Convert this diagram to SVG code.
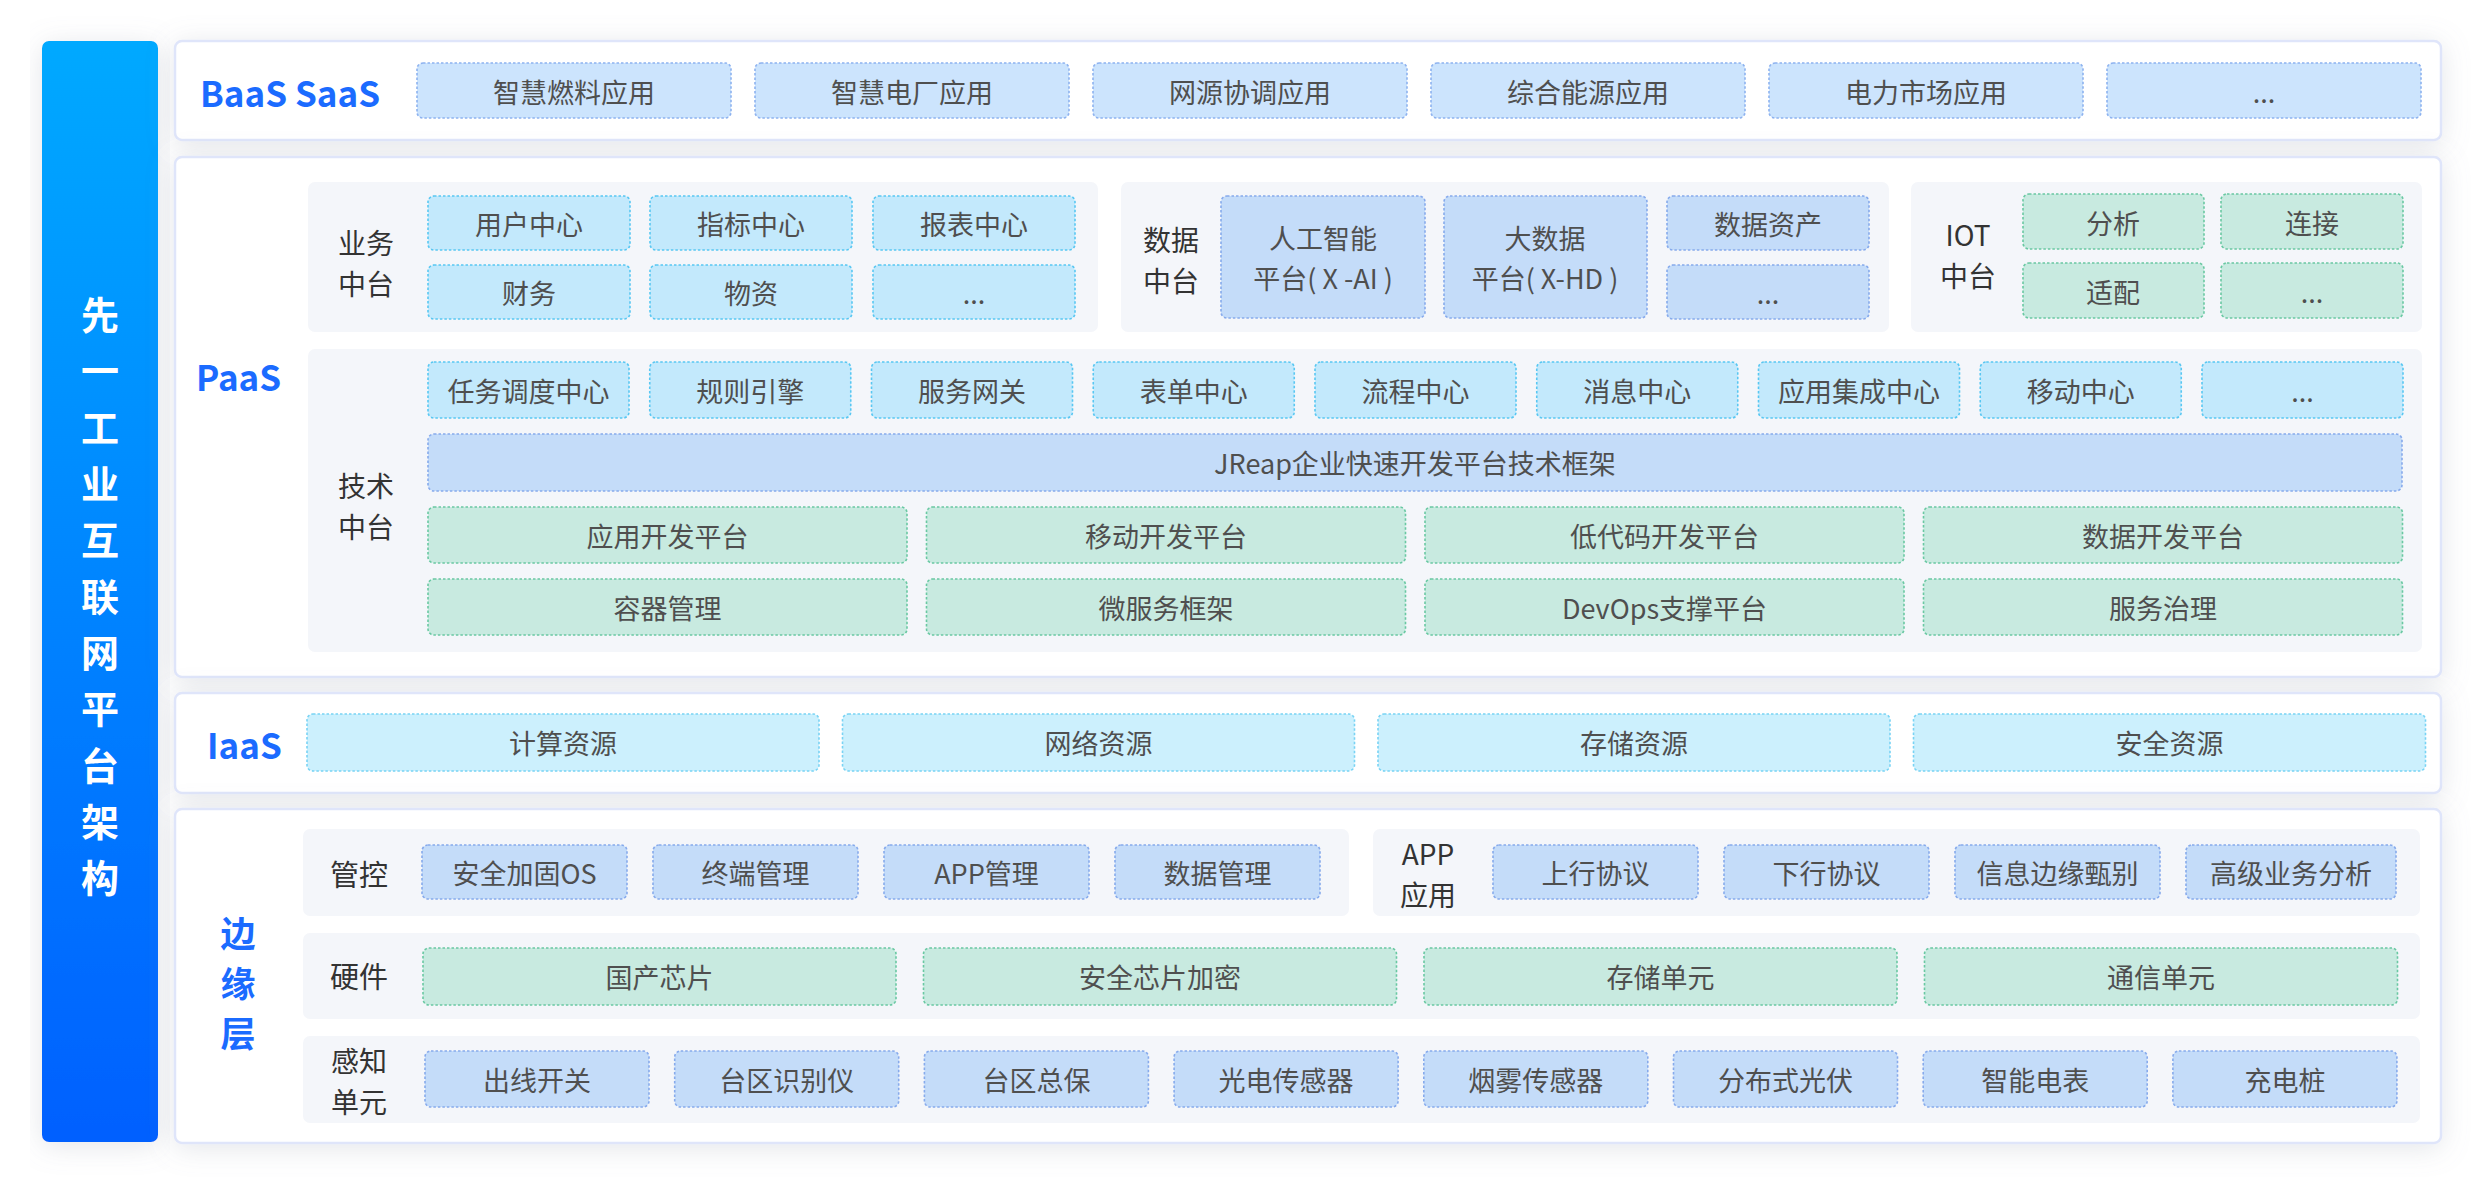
<svg xmlns="http://www.w3.org/2000/svg" width="2486" height="1190" viewBox="0 0 2486 1190">
<defs>
<linearGradient id="barg" x1="0" y1="0" x2="0" y2="1">
<stop offset="0" stop-color="#00a9ff"/>
<stop offset="1" stop-color="#0460ff"/>
</linearGradient>
<filter id="sh" x="-10%" y="-30%" width="120%" height="160%">
<feDropShadow dx="0" dy="4" stdDeviation="14" flood-color="#8a94a6" flood-opacity="0.24"/>
</filter>
<style>
text{font-family:"Noto Sans CJK SC","Noto Sans",sans-serif}
.panel{fill:#ffffff;stroke:#dfe5fa;stroke-width:2.5;filter:url(#sh)}
.sub{fill:#f4f6fa}
.bx{stroke-width:1.6;stroke-dasharray:2.5 2}
.b1{fill:#cce4fd;stroke:#8db2ef}
.cy{fill:#c3e9fc;stroke:#58c7f2}
.bl{fill:#c4dcf9;stroke:#86aaec}
.gr{fill:#c8eae0;stroke:#69c8a2}
.ia{fill:#ccf0fd;stroke:#78d3f4}
.t{font-size:27px;fill:#4f4f4f;text-anchor:middle;dominant-baseline:central}
.lab{font-size:29px;fill:#333333;text-anchor:middle;dominant-baseline:central}
.lab2{font-size:28px;fill:#333333;text-anchor:middle;dominant-baseline:central}
.big{font-size:35px;font-weight:700;fill:#1b6bff;dominant-baseline:central}
.bar{font-size:38px;font-weight:700;fill:#ffffff;text-anchor:middle;dominant-baseline:central}
</style>
</defs>
<rect width="2486" height="1190" fill="#ffffff"/>

<g id="title-bar">
<rect x="42" y="41" width="116" height="1101" rx="7" fill="url(#barg)" filter="url(#sh)"/>
<text class="bar"><tspan x="100" y="312">先</tspan><tspan x="100" y="368">一</tspan><tspan x="100" y="425">工</tspan><tspan x="100" y="481">业</tspan><tspan x="100" y="537">互</tspan><tspan x="100" y="594">联</tspan><tspan x="100" y="650">网</tspan><tspan x="100" y="706">平</tspan><tspan x="100" y="763">台</tspan><tspan x="100" y="819">架</tspan><tspan x="100" y="875">构</tspan></text>
</g>

<g id="panels">
<rect class="panel" x="175" y="41" width="2266" height="99" rx="7"/>
<rect class="panel" x="175" y="157" width="2266" height="520" rx="7"/>
<rect class="panel" x="175" y="693" width="2266" height="100" rx="7"/>
<rect class="panel" x="175" y="809" width="2266" height="334" rx="7"/>
</g>

<g id="baas">
<text class="big" x="200" y="91">BaaS SaaS</text>
<rect class="bx b1" x="417" y="63" width="314" height="55" rx="6"/><text class="t" x="574" y="91">智慧燃料应用</text>
<rect class="bx b1" x="755" y="63" width="314" height="55" rx="6"/><text class="t" x="912" y="91">智慧电厂应用</text>
<rect class="bx b1" x="1093" y="63" width="314" height="55" rx="6"/><text class="t" x="1250" y="91">网源协调应用</text>
<rect class="bx b1" x="1431" y="63" width="314" height="55" rx="6"/><text class="t" x="1588" y="91">综合能源应用</text>
<rect class="bx b1" x="1769" y="63" width="314" height="55" rx="6"/><text class="t" x="1926" y="91">电力市场应用</text>
<rect class="bx b1" x="2107" y="63" width="314" height="55" rx="6"/><text class="t" x="2264" y="91">...</text>
</g>

<g id="paas">
<text class="big" x="196" y="375">PaaS</text>
</g>

<g id="biz-center">
<rect class="sub" x="308" y="182" width="790" height="150" rx="7"/>
<text class="lab2"><tspan x="366" y="242">业务</tspan><tspan x="366" y="283">中台</tspan></text>
<rect class="bx cy" x="428" y="196" width="202" height="54" rx="6"/><text class="t" x="529" y="223">用户中心</text>
<rect class="bx cy" x="650" y="196" width="202" height="54" rx="6"/><text class="t" x="751" y="223">指标中心</text>
<rect class="bx cy" x="873" y="196" width="202" height="54" rx="6"/><text class="t" x="974" y="223">报表中心</text>
<rect class="bx cy" x="428" y="265" width="202" height="54" rx="6"/><text class="t" x="529" y="292">财务</text>
<rect class="bx cy" x="650" y="265" width="202" height="54" rx="6"/><text class="t" x="751" y="292">物资</text>
<rect class="bx cy" x="873" y="265" width="202" height="54" rx="6"/><text class="t" x="974" y="292">...</text>
</g>

<g id="data-center">
<rect class="sub" x="1121" y="182" width="768" height="150" rx="7"/>
<text class="lab2"><tspan x="1171" y="239">数据</tspan><tspan x="1171" y="280">中台</tspan></text>
<rect class="bx bl" x="1221" y="196" width="204" height="122" rx="6"/>
<text class="t"><tspan x="1323" y="237">人工智能</tspan><tspan x="1323" y="277">平台( X -AI )</tspan></text>
<rect class="bx bl" x="1444" y="196" width="203" height="122" rx="6"/>
<text class="t"><tspan x="1545" y="237">大数据</tspan><tspan x="1545" y="277">平台( X-HD )</tspan></text>
<rect class="bx bl" x="1667" y="196" width="202" height="54" rx="6"/><text class="t" x="1768" y="223">数据资产</text>
<rect class="bx bl" x="1667" y="265" width="202" height="54" rx="6"/><text class="t" x="1768" y="292">...</text>
</g>

<g id="iot-center">
<rect class="sub" x="1911" y="182" width="511" height="150" rx="7"/>
<text class="lab2"><tspan x="1968" y="234">IOT</tspan><tspan x="1968" y="275">中台</tspan></text>
<rect class="bx gr" x="2023" y="194" width="181" height="55" rx="6"/><text class="t" x="2113" y="222">分析</text>
<rect class="bx gr" x="2221" y="194" width="182" height="55" rx="6"/><text class="t" x="2312" y="222">连接</text>
<rect class="bx gr" x="2023" y="263" width="181" height="55" rx="6"/><text class="t" x="2113" y="291">适配</text>
<rect class="bx gr" x="2221" y="263" width="182" height="55" rx="6"/><text class="t" x="2312" y="291">...</text>
</g>

<g id="tech-center">
<rect class="sub" x="308" y="349" width="2114" height="303" rx="7"/>
<text class="lab2"><tspan x="366" y="485">技术</tspan><tspan x="366" y="526">中台</tspan></text>
<rect class="bx cy" x="428" y="362" width="201" height="56" rx="6"/><text class="t" x="528.5" y="390">任务调度中心</text>
<rect class="bx cy" x="649.75" y="362" width="201" height="56" rx="6"/><text class="t" x="750.25" y="390">规则引擎</text>
<rect class="bx cy" x="871.5" y="362" width="201" height="56" rx="6"/><text class="t" x="972" y="390">服务网关</text>
<rect class="bx cy" x="1093.25" y="362" width="201" height="56" rx="6"/><text class="t" x="1193.75" y="390">表单中心</text>
<rect class="bx cy" x="1315" y="362" width="201" height="56" rx="6"/><text class="t" x="1415.5" y="390">流程中心</text>
<rect class="bx cy" x="1536.75" y="362" width="201" height="56" rx="6"/><text class="t" x="1637.25" y="390">消息中心</text>
<rect class="bx cy" x="1758.5" y="362" width="201" height="56" rx="6"/><text class="t" x="1859" y="390">应用集成中心</text>
<rect class="bx cy" x="1980.25" y="362" width="201" height="56" rx="6"/><text class="t" x="2080.75" y="390">移动中心</text>
<rect class="bx cy" x="2202" y="362" width="201" height="56" rx="6"/><text class="t" x="2302.5" y="390">...</text>
<rect class="bx bl" x="428" y="434" width="1974" height="57" rx="6"/><text class="t" x="1415" y="462">JReap企业快速开发平台技术框架</text>
<rect class="bx gr" x="428" y="507" width="479" height="56" rx="6"/><text class="t" x="667.5" y="535">应用开发平台</text>
<rect class="bx gr" x="926.5" y="507" width="479" height="56" rx="6"/><text class="t" x="1166" y="535">移动开发平台</text>
<rect class="bx gr" x="1425" y="507" width="479" height="56" rx="6"/><text class="t" x="1664.5" y="535">低代码开发平台</text>
<rect class="bx gr" x="1923.5" y="507" width="479" height="56" rx="6"/><text class="t" x="2163" y="535">数据开发平台</text>
<rect class="bx gr" x="428" y="579" width="479" height="56" rx="6"/><text class="t" x="667.5" y="607">容器管理</text>
<rect class="bx gr" x="926.5" y="579" width="479" height="56" rx="6"/><text class="t" x="1166" y="607">微服务框架</text>
<rect class="bx gr" x="1425" y="579" width="479" height="56" rx="6"/><text class="t" x="1664.5" y="607">DevOps支撑平台</text>
<rect class="bx gr" x="1923.5" y="579" width="479" height="56" rx="6"/><text class="t" x="2163" y="607">服务治理</text>
</g>

<g id="iaas">
<text class="big" x="207" y="743">IaaS</text>
<rect class="bx ia" x="307" y="714" width="512" height="57" rx="6"/><text class="t" x="563" y="742">计算资源</text>
<rect class="bx ia" x="842.5" y="714" width="512" height="57" rx="6"/><text class="t" x="1098.5" y="742">网络资源</text>
<rect class="bx ia" x="1378" y="714" width="512" height="57" rx="6"/><text class="t" x="1634" y="742">存储资源</text>
<rect class="bx ia" x="1913.5" y="714" width="512" height="57" rx="6"/><text class="t" x="2169.5" y="742">安全资源</text>
</g>

<g id="edge">
<text class="big" x="238" y="991" text-anchor="middle" writing-mode="vertical-rl" letter-spacing="15">边缘层</text>
</g>

<g id="edge-control">
<rect class="sub" x="303" y="829" width="1046" height="87" rx="7"/>
<text class="lab" x="359" y="873">管控</text>
<rect class="bx bl" x="422" y="845" width="205" height="54" rx="6"/><text class="t" x="524.5" y="872">安全加固OS</text>
<rect class="bx bl" x="653" y="845" width="205" height="54" rx="6"/><text class="t" x="755.5" y="872">终端管理</text>
<rect class="bx bl" x="884" y="845" width="205" height="54" rx="6"/><text class="t" x="986.5" y="872">APP管理</text>
<rect class="bx bl" x="1115" y="845" width="205" height="54" rx="6"/><text class="t" x="1217.5" y="872">数据管理</text>
</g>

<g id="edge-app">
<rect class="sub" x="1373" y="829" width="1047" height="87" rx="7"/>
<text class="lab2"><tspan x="1428" y="853">APP</tspan><tspan x="1428" y="894">应用</tspan></text>
<rect class="bx bl" x="1493" y="845" width="205" height="54" rx="6"/><text class="t" x="1595.5" y="872">上行协议</text>
<rect class="bx bl" x="1724" y="845" width="205" height="54" rx="6"/><text class="t" x="1826.5" y="872">下行协议</text>
<rect class="bx bl" x="1955" y="845" width="205" height="54" rx="6"/><text class="t" x="2057.5" y="872">信息边缘甄别</text>
<rect class="bx bl" x="2186" y="845" width="210" height="54" rx="6"/><text class="t" x="2291" y="872">高级业务分析</text>
</g>

<g id="edge-hardware">
<rect class="sub" x="303" y="933" width="2117" height="86" rx="7"/>
<text class="lab" x="359" y="975">硬件</text>
<rect class="bx gr" x="423" y="948" width="473" height="57" rx="6"/><text class="t" x="659.5" y="976">国产芯片</text>
<rect class="bx gr" x="923.5" y="948" width="473" height="57" rx="6"/><text class="t" x="1160" y="976">安全芯片加密</text>
<rect class="bx gr" x="1424" y="948" width="473" height="57" rx="6"/><text class="t" x="1660.5" y="976">存储单元</text>
<rect class="bx gr" x="1924.5" y="948" width="473" height="57" rx="6"/><text class="t" x="2161" y="976">通信单元</text>
</g>

<g id="edge-sensing">
<rect class="sub" x="303" y="1036" width="2117" height="87" rx="7"/>
<text class="lab2"><tspan x="359" y="1060">感知</tspan><tspan x="359" y="1101">单元</tspan></text>
<rect class="bx bl" x="425" y="1051" width="224" height="56" rx="6"/><text class="t" x="537" y="1079">出线开关</text>
<rect class="bx bl" x="674.7" y="1051" width="224" height="56" rx="6"/><text class="t" x="786.7" y="1079">台区识别仪</text>
<rect class="bx bl" x="924.4" y="1051" width="224" height="56" rx="6"/><text class="t" x="1036.4" y="1079">台区总保</text>
<rect class="bx bl" x="1174.1" y="1051" width="224" height="56" rx="6"/><text class="t" x="1286.1" y="1079">光电传感器</text>
<rect class="bx bl" x="1423.8" y="1051" width="224" height="56" rx="6"/><text class="t" x="1535.8" y="1079">烟雾传感器</text>
<rect class="bx bl" x="1673.5" y="1051" width="224" height="56" rx="6"/><text class="t" x="1785.5" y="1079">分布式光伏</text>
<rect class="bx bl" x="1923.2" y="1051" width="224" height="56" rx="6"/><text class="t" x="2035.2" y="1079">智能电表</text>
<rect class="bx bl" x="2172.9" y="1051" width="224" height="56" rx="6"/><text class="t" x="2284.9" y="1079">充电桩</text>
</g>

<g id="connectors"></g>
</svg>
